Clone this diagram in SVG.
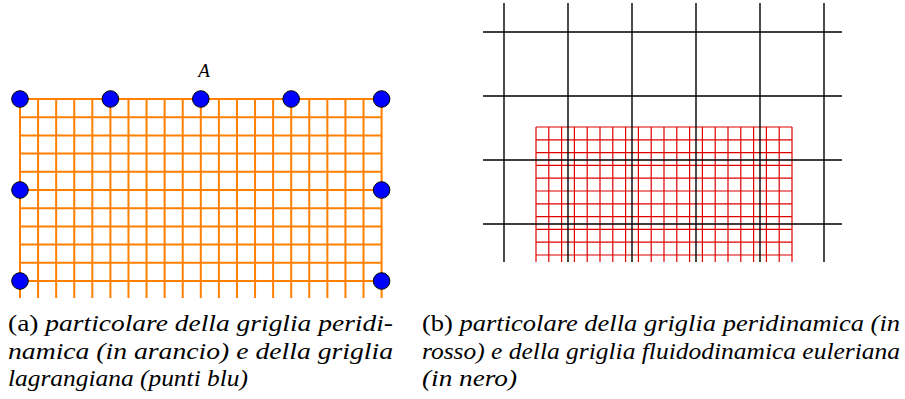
<svg xmlns="http://www.w3.org/2000/svg" width="905" height="399" viewBox="0 0 905 399">
<style>
.org{stroke:#ff8000;stroke-width:2;fill:none}
.red{stroke:#e00000;stroke-width:1.2;fill:none}
.blk{stroke:#000;stroke-width:1.4;fill:none}
.dot{fill:#0000ff;stroke:#000;stroke-width:1}
</style>
<rect width="905" height="399" fill="#fff"/>
<g id="orange-grid" class="org">
<path d="M20,99V298M38.08,99V298M56.16,99V298M74.24,99V298M92.32,99V298M110.4,99V298M128.48,99V298M146.56,99V298M164.64,99V298M182.72,99V298M200.8,99V298M218.88,99V298M236.96,99V298M255.04,99V298M273.12,99V298M291.2,99V298M309.28,99V298M327.36,99V298M345.44,99V298M363.52,99V298M381.6,99V298"/>
<path d="M20,99H381.6M20,117.2H381.6M20,135.4H381.6M20,153.6H381.6M20,171.8H381.6M20,190H381.6M20,208.2H381.6M20,226.4H381.6M20,244.6H381.6M20,262.8H381.6M20,281H381.6"/>
</g>
<g id="lagrangian-points" class="dot">
<circle cx="20" cy="99" r="8.3"/>
<circle cx="110.4" cy="99" r="8.3"/>
<circle cx="200.8" cy="99" r="8.3"/>
<circle cx="291.2" cy="99" r="8.3"/>
<circle cx="381.6" cy="99" r="8.3"/>
<circle cx="20" cy="190" r="8.3"/>
<circle cx="381.6" cy="190" r="8.3"/>
<circle cx="20" cy="281" r="8.3"/>
<circle cx="381.6" cy="281" r="8.3"/>
</g>
<g id="peridynamic-grid" class="red">
<path d="M536,127V262M548.8,127V262M561.6,127V262M574.4,127V262M587.2,127V262M600,127V262M612.8,127V262M625.6,127V262M638.4,127V262M651.2,127V262M664,127V262M676.8,127V262M689.6,127V262M702.4,127V262M715.2,127V262M728,127V262M740.8,127V262M753.6,127V262M766.4,127V262M779.2,127V262M792,127V262"/>
<path d="M536,127H792M536,139.8H792M536,152.6H792M536,165.4H792M536,178.2H792M536,191H792M536,203.8H792M536,216.6H792M536,229.4H792M536,242.2H792M536,255H792"/>
</g>
<g id="eulerian-grid" class="blk">
<path d="M504,3V262M568,3V262M632,3V262M696,3V262M760,3V262M824,3V262"/>
<path d="M483,32H842M483,96H842M483,160H842M483,224H842"/>
</g>
<text id="label-A" x="204" y="77" text-anchor="middle" font-family="Times New Roman" font-style="italic" font-size="19">A</text>
<g id="caption-a">
<text x="8" y="331" font-family="Times New Roman" font-size="23" textLength="385" lengthAdjust="spacingAndGlyphs">(a) <tspan font-style="italic">particolare della griglia peridi-</tspan></text>
<text x="8" y="358.5" font-family="Times New Roman" font-style="italic" font-size="23" textLength="385" lengthAdjust="spacingAndGlyphs">namica (in arancio) e della griglia</text>
<text x="8" y="386" font-family="Times New Roman" font-style="italic" font-size="23" textLength="240" lengthAdjust="spacingAndGlyphs">lagrangiana (punti blu)</text>
</g>
<g id="caption-b">
<text x="422" y="331" font-family="Times New Roman" font-size="23" textLength="478" lengthAdjust="spacingAndGlyphs">(b) <tspan font-style="italic">particolare della griglia peridinamica (in</tspan></text>
<text x="422" y="358.5" font-family="Times New Roman" font-style="italic" font-size="23" textLength="478" lengthAdjust="spacingAndGlyphs">rosso) e della griglia fluidodinamica euleriana</text>
<text x="422" y="386" font-family="Times New Roman" font-style="italic" font-size="23" textLength="95" lengthAdjust="spacingAndGlyphs">(in nero)</text>
</g>
</svg>
